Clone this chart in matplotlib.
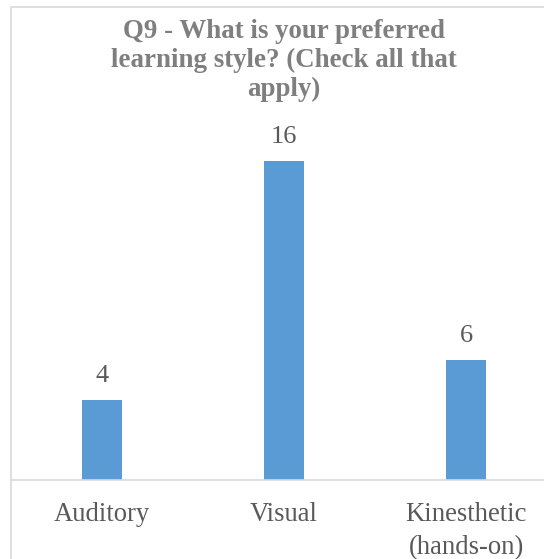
import matplotlib
matplotlib.use("Agg")
import matplotlib.pyplot as plt
from matplotlib.patches import Rectangle

# data
kategorie = ["Auditory", "Visual", "Kinesthetic\n(hands-on)"]
hodnoty = [4, 16, 6]
nadpis = "Q9 - What is your preferred\nlearning style? (Check all that\napply)"

plt.rcParams["font.family"] = ["Liberation Serif", "DejaVu Serif"]

W, H = 544, 559
fig = plt.figure(figsize=(W / 100, H / 100), dpi=100)

# outer chart border (cropped at right / bottom like the reference)
fig.patches.append(Rectangle((11 / W, -0.2), 1.2, 1 - 7 / H + 0.2,
                             transform=fig.transFigure, fill=False,
                             edgecolor="#d9d9d9", linewidth=1.2))

ax = fig.add_axes([11 / W, 1 - 480 / H, 546 / W, 359 / H])
x = range(len(kategorie))
bars = ax.bar(x, hodnoty, width=0.22, color="#5b9bd5", zorder=2)
ax.set_xlim(-0.5, 2.5)
ax.set_ylim(0, 18)

for s in ["top", "left", "right"]:
    ax.spines[s].set_visible(False)
ax.spines["bottom"].set_color("#d9d9d9")
ax.spines["bottom"].set_linewidth(1.2)
ax.set_yticks([])
ax.set_xticks(list(x))
ax.set_xticklabels(kategorie, fontsize=19.2, color="#595959", linespacing=1.4)
ax.tick_params(axis="x", length=0, pad=16)
ax.patch.set_alpha(0)

ax.bar_label(bars, labels=[str(v) for v in hodnoty], padding=9.5,
             fontsize=19, color="#595959")

fig.text(284 / W, 1 - 19 / H, nadpis, ha="center", va="top",
         fontsize=19.4, fontweight="bold", color="#7f7f7f", linespacing=1.2)

fig.savefig("out.png", dpi=100)
